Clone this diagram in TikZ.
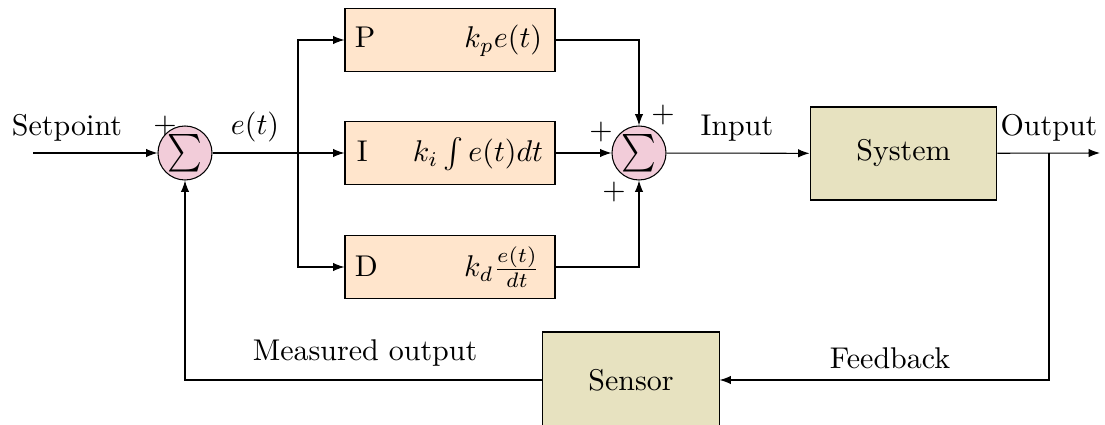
\documentclass[tikz,border=0pt]{standalone}
\usetikzlibrary{arrows.meta,calc}
\definecolor{sumfill}{RGB}{242,204,217}
\definecolor{pidfill}{RGB}{255,229,204}
\definecolor{sysfill}{RGB}{231,226,192}
\newcommand{\bigsigma}{\scalebox{1.1}[1.25]{$\sum$}}
\begin{document}
\begin{tikzpicture}[x=0.3333pt,y=-0.3333pt,line width=0.35pt,
  >={Latex[length=3.8pt,width=2.8pt]},
  sumnode/.style={circle,draw,fill=sumfill,minimum size=18pt,inner sep=0pt},
  pidbox/.style={rectangle,draw,fill=pidfill,minimum width=70pt,minimum height=21pt,inner sep=0pt},
  sysbox/.style={rectangle,draw,fill=sysfill,inner sep=0pt},
  lbl/.style={inner sep=0pt}]
\useasboundingbox (0,0) rectangle (1105,425);
% summing junctions
\node[lbl] (plusA) at (165,126) {$+$};
\node[sumnode] (s1) at (185,153) {\bigsigma};
\node[lbl] (plusB) at (663,115) {$+$};
\node[lbl] (plusC) at (601,132) {$+$};
\node[lbl] (plusD) at (614,192) {$+$};
\node[sumnode] (s2) at (639,153) {\bigsigma};
% PID blocks
\node[pidbox] (P) at (450,40) {};
\node[pidbox] (I) at (450,153) {};
\node[pidbox] (D) at (450,267) {};
\node[lbl,anchor=base west] (Pl) at ($(P.west)+(10,8)$) {P};
\node[lbl,anchor=base east] (Pr) at ($(P.east)+(-13,8)$) {$k_pe(t)$};
\node[lbl,anchor=base west] (Il) at ($(I.west)+(12,9)$) {I};
\node[lbl,anchor=base east] (Ir) at ($(I.east)+(-12,9)$) {$k_i\int e(t)dt$};
\node[lbl,anchor=base west] (Dl) at ($(D.west)+(10,10)$) {D};
\node[lbl,anchor=base east] (Dr) at ($(D.east)+(-15,10)$) {$k_d\frac{e(t)}{dt}$};
% system and sensor
\node[sysbox,minimum width=62.3pt,minimum height=31pt] (sys) at (903.5,153.5) {System};
\node[sysbox,minimum width=58.7pt,minimum height=32pt] (sensor) at (631,380) {Sensor};
% text labels
\node[lbl] (tsp) at (67,128) {Setpoint};
\node[lbl] (tet) at (255,127) {$e(t)$};
\node[lbl] (tin) at (737,128) {Input};
\node[lbl] (tout) at (1049,128) {Output};
\node[lbl] (tmeas) at (365,353) {Measured output};
\node[lbl] (tfb) at (890,358) {Feedback};
% coordinates
\coordinate (in) at (33,153);
\coordinate (br) at (298,153);
\coordinate (out) at (1100,153);
\coordinate (fb) at (1049,153);
% connectors
\draw[->] (in) -- (s1);
\draw (s1) -- (br);
\draw[->] (br) -- (I);
\draw[->] (br) |- (P);
\draw[->] (br) |- (D);
\draw[->] (P) -| (s2);
\draw[->] (I) -- (s2);
\draw[->] (D) -| (s2);
\draw[->] (s2) -- (sys);
\draw[->] (sys) -- (out);
\draw[->] (fb) |- (sensor);
\draw[->] (sensor) -| (s1);
\end{tikzpicture}
\end{document}
